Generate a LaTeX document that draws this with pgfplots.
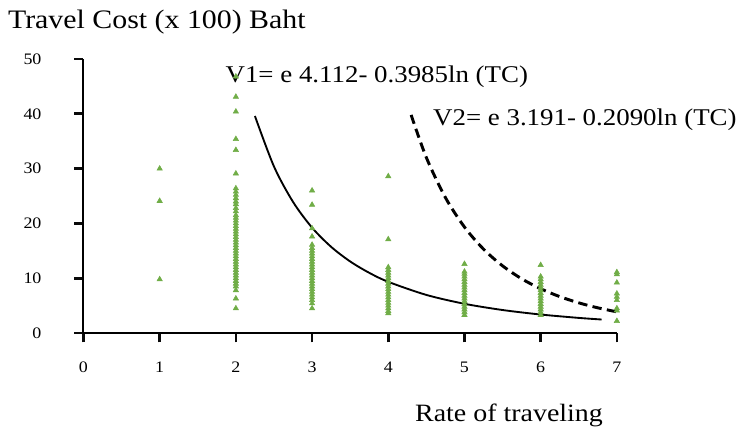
\documentclass[border=0pt]{standalone}
\usepackage{fontspec}
\setmainfont{Liberation Serif}
\newfontfamily\camfont[FakeStretch=1.12]{Liberation Serif}
\usepackage{pgfplots}
\pgfplotsset{compat=1.18}
\definecolor{ptgreen}{HTML}{70AD47}
\definecolor{tickgray}{HTML}{0A0A0A}

\begin{document}
\begin{tikzpicture}
\begin{axis}[
  at={(0,0)}, anchor=south west,
  scale only axis,
  width=400pt, height=205.5pt,
  xmin=0, xmax=7, ymin=0, ymax=50,
  axis lines=left,
  axis line style={-, line width=1.5pt},
  xtick={0,...,7}, ytick={0,10,...,50},
  tick align=outside,
  major tick length=7pt,
  tick style={draw=tickgray, line width=2pt},
  tick label style={font=\camfont\fontsize{12}{14}\selectfont},
  xticklabel style={yshift=-11pt},
  yticklabel style={xshift=-21pt},
  /pgf/number format/assume math mode=true,
  clip=false,
]
% observed points
\addplot[only marks, mark=triangle*, mark size=2.3pt, color=ptgreen] coordinates {
  (1,30.0) (1,24.1) (1,9.8)
  (2,46.8) (2,43.1) (2,40.4) (2,35.4) (2,33.4) (2,29.1) (2,26.4) (2,25.8) (2,25.2)
  (2,24.6) (2,24.0) (2,23.5) (2,22.8) (2,22.2) (2,21.5) (2,21.0) (2,20.5) (2,20.0)
  (2,19.5) (2,19.0) (2,18.5) (2,18.0) (2,17.5) (2,17.0) (2,16.5) (2,16.0) (2,15.5)
  (2,15.0) (2,14.5) (2,14.0) (2,13.5) (2,13.0) (2,12.5) (2,12.0) (2,11.5) (2,11.0)
  (2,10.5) (2,10.0) (2,9.5) (2,9.0) (2,8.5) (2,7.8) (2,6.3) (2,4.5)
  (3,26.0) (3,23.4) (3,19.1) (3,17.6) (3,16.1) (3,15.5) (3,15.0) (3,14.5) (3,14.0)
  (3,13.5) (3,13.0) (3,12.5) (3,12.0) (3,11.5) (3,11.0) (3,10.5) (3,10.0) (3,9.5)
  (3,9.0) (3,8.5) (3,8.0) (3,7.5) (3,7.0) (3,6.5) (3,6.0) (3,5.4) (3,4.5)
  (4,28.6) (4,17.1) (4,12.0) (4,11.5) (4,11.0) (4,10.5) (4,10.0) (4,9.5) (4,9.0)
  (4,8.5) (4,8.0) (4,7.5) (4,7.0) (4,6.5) (4,6.0) (4,5.5) (4,5.0) (4,4.5) (4,4.0) (4,3.6)
  (5,12.6) (5,11.2) (5,10.8) (5,10.3) (5,9.8) (5,9.3) (5,8.8) (5,8.3) (5,7.8)
  (5,7.3) (5,6.8) (5,6.3) (5,5.8) (5,5.3) (5,4.8) (5,4.3) (5,3.8) (5,3.3)
  (6,12.4) (6,10.3) (6,9.8) (6,9.3) (6,8.8) (6,8.3) (6,7.8) (6,7.3) (6,6.8)
  (6,6.3) (6,5.8) (6,5.3) (6,4.8) (6,4.3) (6,3.8) (6,3.3)
  (7,11.1) (7,10.7) (7,9.2) (7,7.2) (7,6.6) (7,6.0) (7,4.5) (7,4.1) (7,2.2)
};
% V1 curve
\addplot[black, line width=1.4pt, smooth] coordinates {
  (2.25,39.6) (2.5,30.39) (2.75,23.93) (3,19.23) (3.25,15.73) (3.5,13.06)
  (3.75,10.99) (4,9.344) (4.5,6.954) (5,5.337) (5.5,4.202) (6,3.378)
  (6.5,2.763) (6.8,2.467)
};
% V2 curve
\addplot[black, line width=2.2pt, dash pattern=on 7pt off 4pt, smooth] coordinates {
  (4.3,39.8) (4.5,32.01) (4.75,24.72) (5,19.34) (5.25,15.31) (5.5,12.26)
  (5.75,9.908) (6,8.082) (6.25,6.648) (6.5,5.511) (6.75,4.600) (7,3.866)
};
\node[anchor=west, inner sep=0pt, font=\camfont\fontsize{18}{20}\selectfont] at (axis cs:1.862,46.7) {V1= e 4.112- 0.3985ln (TC)};
\node[anchor=west, inner sep=0pt, font=\camfont\fontsize{18}{20}\selectfont] at (axis cs:4.586,38.9) {V2= e 3.191- 0.2090ln (TC)};
\node[anchor=west, inner sep=0pt, font=\camfont\fontsize{20}{22}\selectfont] at (axis cs:-0.993,56.7) {Travel Cost (x 100) Baht};
\node[anchor=center, inner sep=0pt, font=\camfont\fontsize{18.7}{20}\selectfont] at (axis cs:5.585,-15.0) {Rate of traveling};
\end{axis}
\pgfresetboundingbox
\path[use as bounding box] (-62.6pt,-72.75pt) rectangle (493.1pt,249.75pt);
\end{tikzpicture}
\end{document}
